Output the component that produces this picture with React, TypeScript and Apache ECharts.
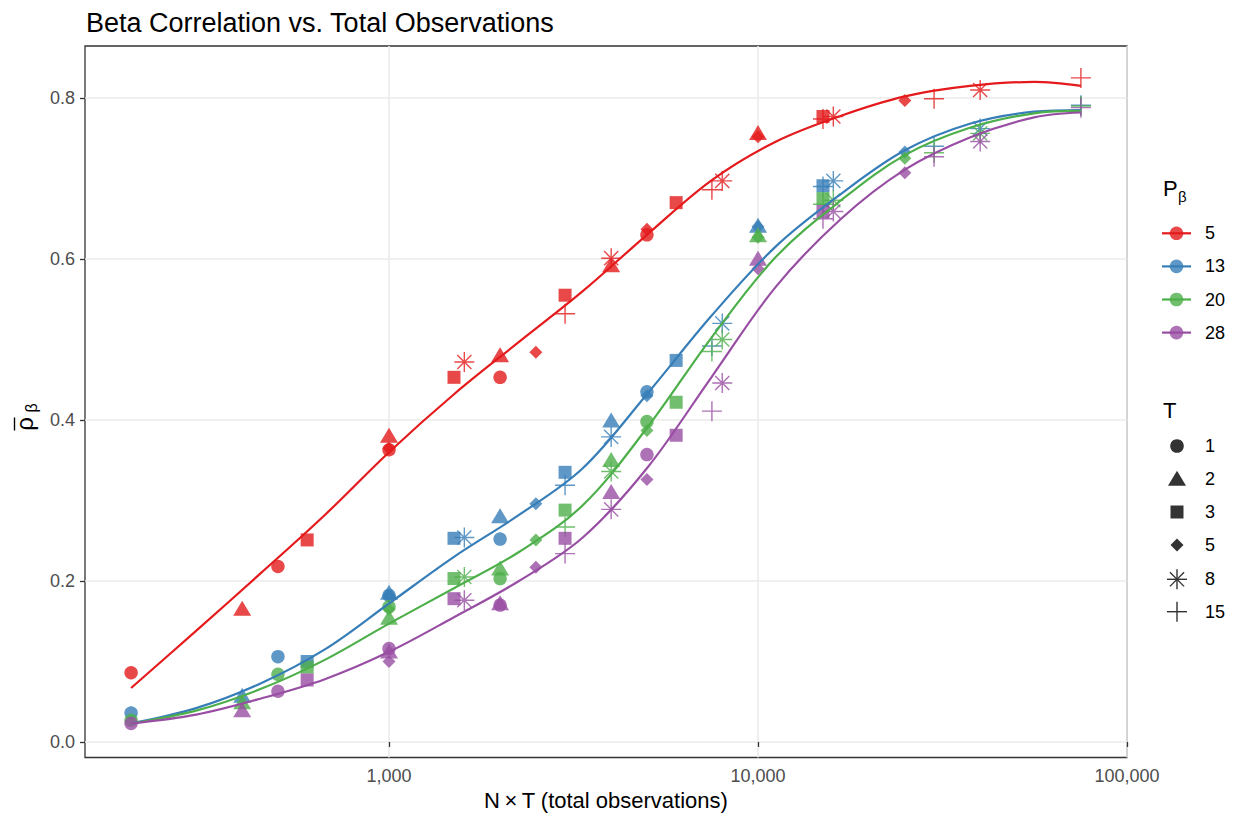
import React, { useEffect, useRef } from 'react';
import * as echarts from 'echarts';

// ---------- data ----------
const N_VALUES = [200, 500, 1000, 2000, 5000];
const T_VALUES = [1, 2, 3, 5, 8, 15];
const P_LEVELS = ['5', '13', '20', '28'];
const P_COLORS = ['#E41A1C', '#377EB8', '#4DAF4A', '#984EA3'];

// mean beta correlation; rows = T (1,2,3,5,8,15), columns = N (200,500,1000,2000,5000)
const rhoP5 = [
  [0.086, 0.218, 0.363, 0.453, 0.630],
  [0.166, 0.381, 0.481, 0.593, 0.757],
  [0.251, 0.453, 0.555, 0.670, 0.777],
  [0.365, 0.484, 0.637, 0.752, 0.797],
  [0.472, 0.601, 0.697, 0.777, 0.810],
  [0.532, 0.686, 0.774, 0.799, 0.825],
];
const rhoP13 = [
  [0.036, 0.106, 0.182, 0.252, 0.435],
  [0.058, 0.186, 0.281, 0.400, 0.642],
  [0.100, 0.253, 0.335, 0.474, 0.691],
  [0.181, 0.296, 0.430, 0.640, 0.733],
  [0.254, 0.379, 0.520, 0.697, 0.762],
  [0.319, 0.492, 0.690, 0.740, 0.791],
];
const rhoP20 = [
  [0.027, 0.084, 0.168, 0.203, 0.398],
  [0.050, 0.155, 0.216, 0.351, 0.630],
  [0.093, 0.203, 0.288, 0.422, 0.675],
  [0.165, 0.251, 0.387, 0.627, 0.725],
  [0.205, 0.336, 0.500, 0.673, 0.756],
  [0.267, 0.485, 0.668, 0.732, 0.790],
];
const rhoP28 = [
  [0.023, 0.063, 0.116, 0.170, 0.357],
  [0.040, 0.113, 0.173, 0.311, 0.601],
  [0.077, 0.178, 0.253, 0.381, 0.659],
  [0.100, 0.217, 0.326, 0.588, 0.707],
  [0.176, 0.289, 0.446, 0.659, 0.746],
  [0.234, 0.411, 0.650, 0.727, 0.788],
];

// smooth fit curves at roughly log-even x positions
const FIT_X = [200, 300, 450, 670, 1000, 1500, 2250, 3350, 5000, 7500, 11200, 16800, 25000, 37500, 56000, 75000];
const fitP5 = [0.067, 0.138, 0.210, 0.282, 0.360, 0.432, 0.497, 0.560, 0.630, 0.698, 0.746, 0.778, 0.802, 0.815, 0.820, 0.815];
const fitP13 = [0.023, 0.042, 0.073, 0.115, 0.172, 0.230, 0.282, 0.340, 0.432, 0.530, 0.616, 0.681, 0.735, 0.768, 0.783, 0.785];
const fitP20 = [0.023, 0.039, 0.066, 0.102, 0.147, 0.191, 0.236, 0.294, 0.390, 0.503, 0.603, 0.673, 0.729, 0.763, 0.781, 0.784];
const fitP28 = [0.023, 0.034, 0.054, 0.078, 0.112, 0.155, 0.200, 0.254, 0.340, 0.454, 0.566, 0.650, 0.711, 0.751, 0.776, 0.782];

const X_TICKS = [1000, 10000, 100000];
const Y_TICKS = [0, 0.2, 0.4, 0.6, 0.8];

const POINT_SETS = [rhoP5, rhoP13, rhoP20, rhoP28];
const FIT_SETS = [fitP5, fitP13, fitP20, fitP28];

// ---------- symbols ----------
const PLUS_PATH = 'path://M9.3,0H10.7V9.3H20V10.7H10.7V20H9.3V10.7H0V9.3H9.3Z';
const STAR_PATH =
  'path://M9.3,0L10.7,0L10.7,20L9.3,20Z' +
  'M0,9.3L20,9.3L20,10.7L0,10.7Z' +
  'M3.425,2.435L17.565,16.575L16.575,17.565L2.435,3.425Z' +
  'M17.565,3.425L3.425,17.565L2.435,16.575L16.575,2.435Z';
const T_SYMBOLS: any[] = ['circle', 'triangle', 'rect', 'diamond', STAR_PATH, PLUS_PATH];
const T_SIZES: any[] = [13.5, [18, 15], 13, [13, 13], 20, 20];

const FONT = '"Liberation Sans", Arial, Helvetica, sans-serif';

function fmtThousands(v: number) {
  return String(Math.round(v)).replace(/\B(?=(\d{3})+(?!\d))/g, ',');
}

function buildLegend() {
  const els: any[] = [];
  const kx = 1176.5;
  // P_beta legend
  els.push({ type: 'text', x: 1163, y: 188, style: { text: 'P', fontSize: 22, fontFamily: FONT, fill: '#000', verticalAlign: 'middle' } });
  els.push({ type: 'text', x: 1178, y: 196, style: { text: 'β', fontSize: 15, fontFamily: FONT, fill: '#000', verticalAlign: 'middle' } });
  P_LEVELS.forEach((p, i) => {
    const y = 233.3 + i * 33.1;
    els.push({ type: 'line', shape: { x1: 1162, y1: y, x2: 1191, y2: y }, style: { stroke: P_COLORS[i], lineWidth: 2.2 } });
    els.push({ type: 'circle', shape: { cx: kx, cy: y, r: 6.8 }, style: { fill: P_COLORS[i], opacity: 0.8 } });
    els.push({ type: 'text', x: 1205, y, style: { text: p, fontSize: 18, fontFamily: FONT, fill: '#000', verticalAlign: 'middle' } });
  });
  // T legend
  els.push({ type: 'text', x: 1163, y: 410, style: { text: 'T', fontSize: 22, fontFamily: FONT, fill: '#000', verticalAlign: 'middle' } });
  const ty = [446, 479.3, 512, 545, 579.3, 611.7];
  const c = 1177;
  const col = '#333333';
  T_VALUES.forEach((t, i) => {
    const y = ty[i];
    if (i === 0) els.push({ type: 'circle', shape: { cx: c, cy: y, r: 6.8 }, style: { fill: col } });
    if (i === 1) els.push({ type: 'polygon', shape: { points: [[c - 9, y + 6.5], [c + 9, y + 6.5], [c, y - 8.5]] }, style: { fill: col } });
    if (i === 2) els.push({ type: 'rect', shape: { x: c - 6.5, y: y - 6.5, width: 13, height: 13 }, style: { fill: col } });
    if (i === 3) els.push({ type: 'polygon', shape: { points: [[c, y - 6.5], [c + 6.5, y], [c, y + 6.5], [c - 6.5, y]] }, style: { fill: col } });
    if (i === 4) {
      const r = 10, d = 7.07;
      [[0, -r, 0, r], [-r, 0, r, 0], [-d, -d, d, d], [-d, d, d, -d]].forEach(([a, b, e, f]) =>
        els.push({ type: 'line', shape: { x1: c + a, y1: y + b, x2: c + e, y2: y + f }, style: { stroke: col, lineWidth: 1.4 } })
      );
    }
    if (i === 5) {
      const r = 10;
      [[0, -r, 0, r], [-r, 0, r, 0]].forEach(([a, b, e, f]) =>
        els.push({ type: 'line', shape: { x1: c + a, y1: y + b, x2: c + e, y2: y + f }, style: { stroke: col, lineWidth: 1.4 } })
      );
    }
    els.push({ type: 'text', x: 1205, y, style: { text: String(t), fontSize: 18, fontFamily: FONT, fill: '#000', verticalAlign: 'middle' } });
  });
  // y-axis title: rho-bar with subscript beta, rotated
  els.push({
    type: 'group',
    x: 24,
    y: 414,
    rotation: Math.PI / 2,
    children: [
      { type: 'text', x: -10, y: 0, style: { text: 'ρ', fontSize: 24, fontFamily: FONT, fill: '#000', align: 'center', verticalAlign: 'middle' } },
      { type: 'line', shape: { x1: -16.5, y1: -9.5, x2: -3.5, y2: -9.5 }, style: { stroke: '#000', lineWidth: 1.4 } },
      { type: 'text', x: 6, y: 7, style: { text: 'β', fontSize: 16, fontFamily: FONT, fill: '#000', align: 'center', verticalAlign: 'middle' } },
    ],
  });
  return els;
}

function buildOption() {
  const series: any[] = [];
  POINT_SETS.forEach((set, pi) => {
    set.forEach((row, ti) => {
      series.push({
        type: 'scatter',
        name: `P${P_LEVELS[pi]}-T${T_VALUES[ti]}`,
        symbol: T_SYMBOLS[ti],
        symbolSize: T_SIZES[ti],
        itemStyle: { color: P_COLORS[pi], opacity: 0.8 },
        z: 2,
        silent: true,
        data: row.map((v, ni) => [N_VALUES[ni] * T_VALUES[ti], v]),
      });
    });
  });
  FIT_SETS.forEach((fit, pi) => {
    series.push({
      type: 'line',
      name: P_LEVELS[pi],
      symbol: 'none',
      smooth: 0.35,
      z: 3,
      silent: true,
      lineStyle: { color: P_COLORS[pi], width: 2.2 },
      data: fit.map((v, i) => [FIT_X[i], v]),
    });
  });

  return {
    animation: false,
    backgroundColor: '#ffffff',
    textStyle: { fontFamily: FONT },
    title: {
      text: 'Beta Correlation vs. Total Observations',
      left: 81,
      top: 4,
      textStyle: { fontSize: 27, fontWeight: 'normal', color: '#000', fontFamily: FONT },
    },
    grid: {
      left: 85,
      right: 112,
      top: 46,
      bottom: 61.5,
      show: true,
      borderColor: '#333333',
      borderWidth: 1.3,
      backgroundColor: 'transparent',
    },
    xAxis: {
      type: 'log',
      logBase: 10,
      min: 150,
      max: 100000,
      splitNumber: 3,
      name: 'N\u2009×\u2009T (total observations)',
      nameLocation: 'middle',
      nameGap: 30,
      nameTextStyle: { fontSize: 22, color: '#000', fontFamily: FONT },
      axisLine: { show: false },
      axisTick: { show: true, length: 5, lineStyle: { color: '#333333', width: 1.3 }, customValues: X_TICKS },
      axisLabel: {
        show: true,
        margin: 9,
        fontSize: 18,
        color: '#4D4D4D',
        fontFamily: FONT,
        customValues: X_TICKS,
        formatter: (v: number) => fmtThousands(v),
      },
      splitLine: { show: true, lineStyle: { color: '#EBEBEB', width: 1.6 } },
    },
    yAxis: {
      type: 'value',
      min: -0.0193,
      max: 0.8646,
      axisLine: { show: false },
      axisTick: { show: true, length: 5, lineStyle: { color: '#333333', width: 1.3 }, customValues: Y_TICKS },
      axisLabel: {
        margin: 10,
        fontSize: 18,
        color: '#4D4D4D',
        fontFamily: FONT,
        customValues: Y_TICKS,
        formatter: (v: number) => v.toFixed(1),
      },
      splitLine: { show: true, lineStyle: { color: '#EBEBEB', width: 1.6 } },
    },
    graphic: { elements: buildLegend() },
    series,
  };
}

export default function App() {
  const ref = useRef<HTMLDivElement>(null);
  useEffect(() => {
    if (!ref.current) return;
    const chart = echarts.init(ref.current, undefined, { renderer: 'svg' });
    chart.setOption(buildOption() as any);
    return () => chart.dispose();
  }, []);
  return (
    <div
      ref={ref}
      style={{ position: 'absolute', left: 0, top: 0, width: 1239, height: 819, background: '#fff' }}
    />
  );
}
